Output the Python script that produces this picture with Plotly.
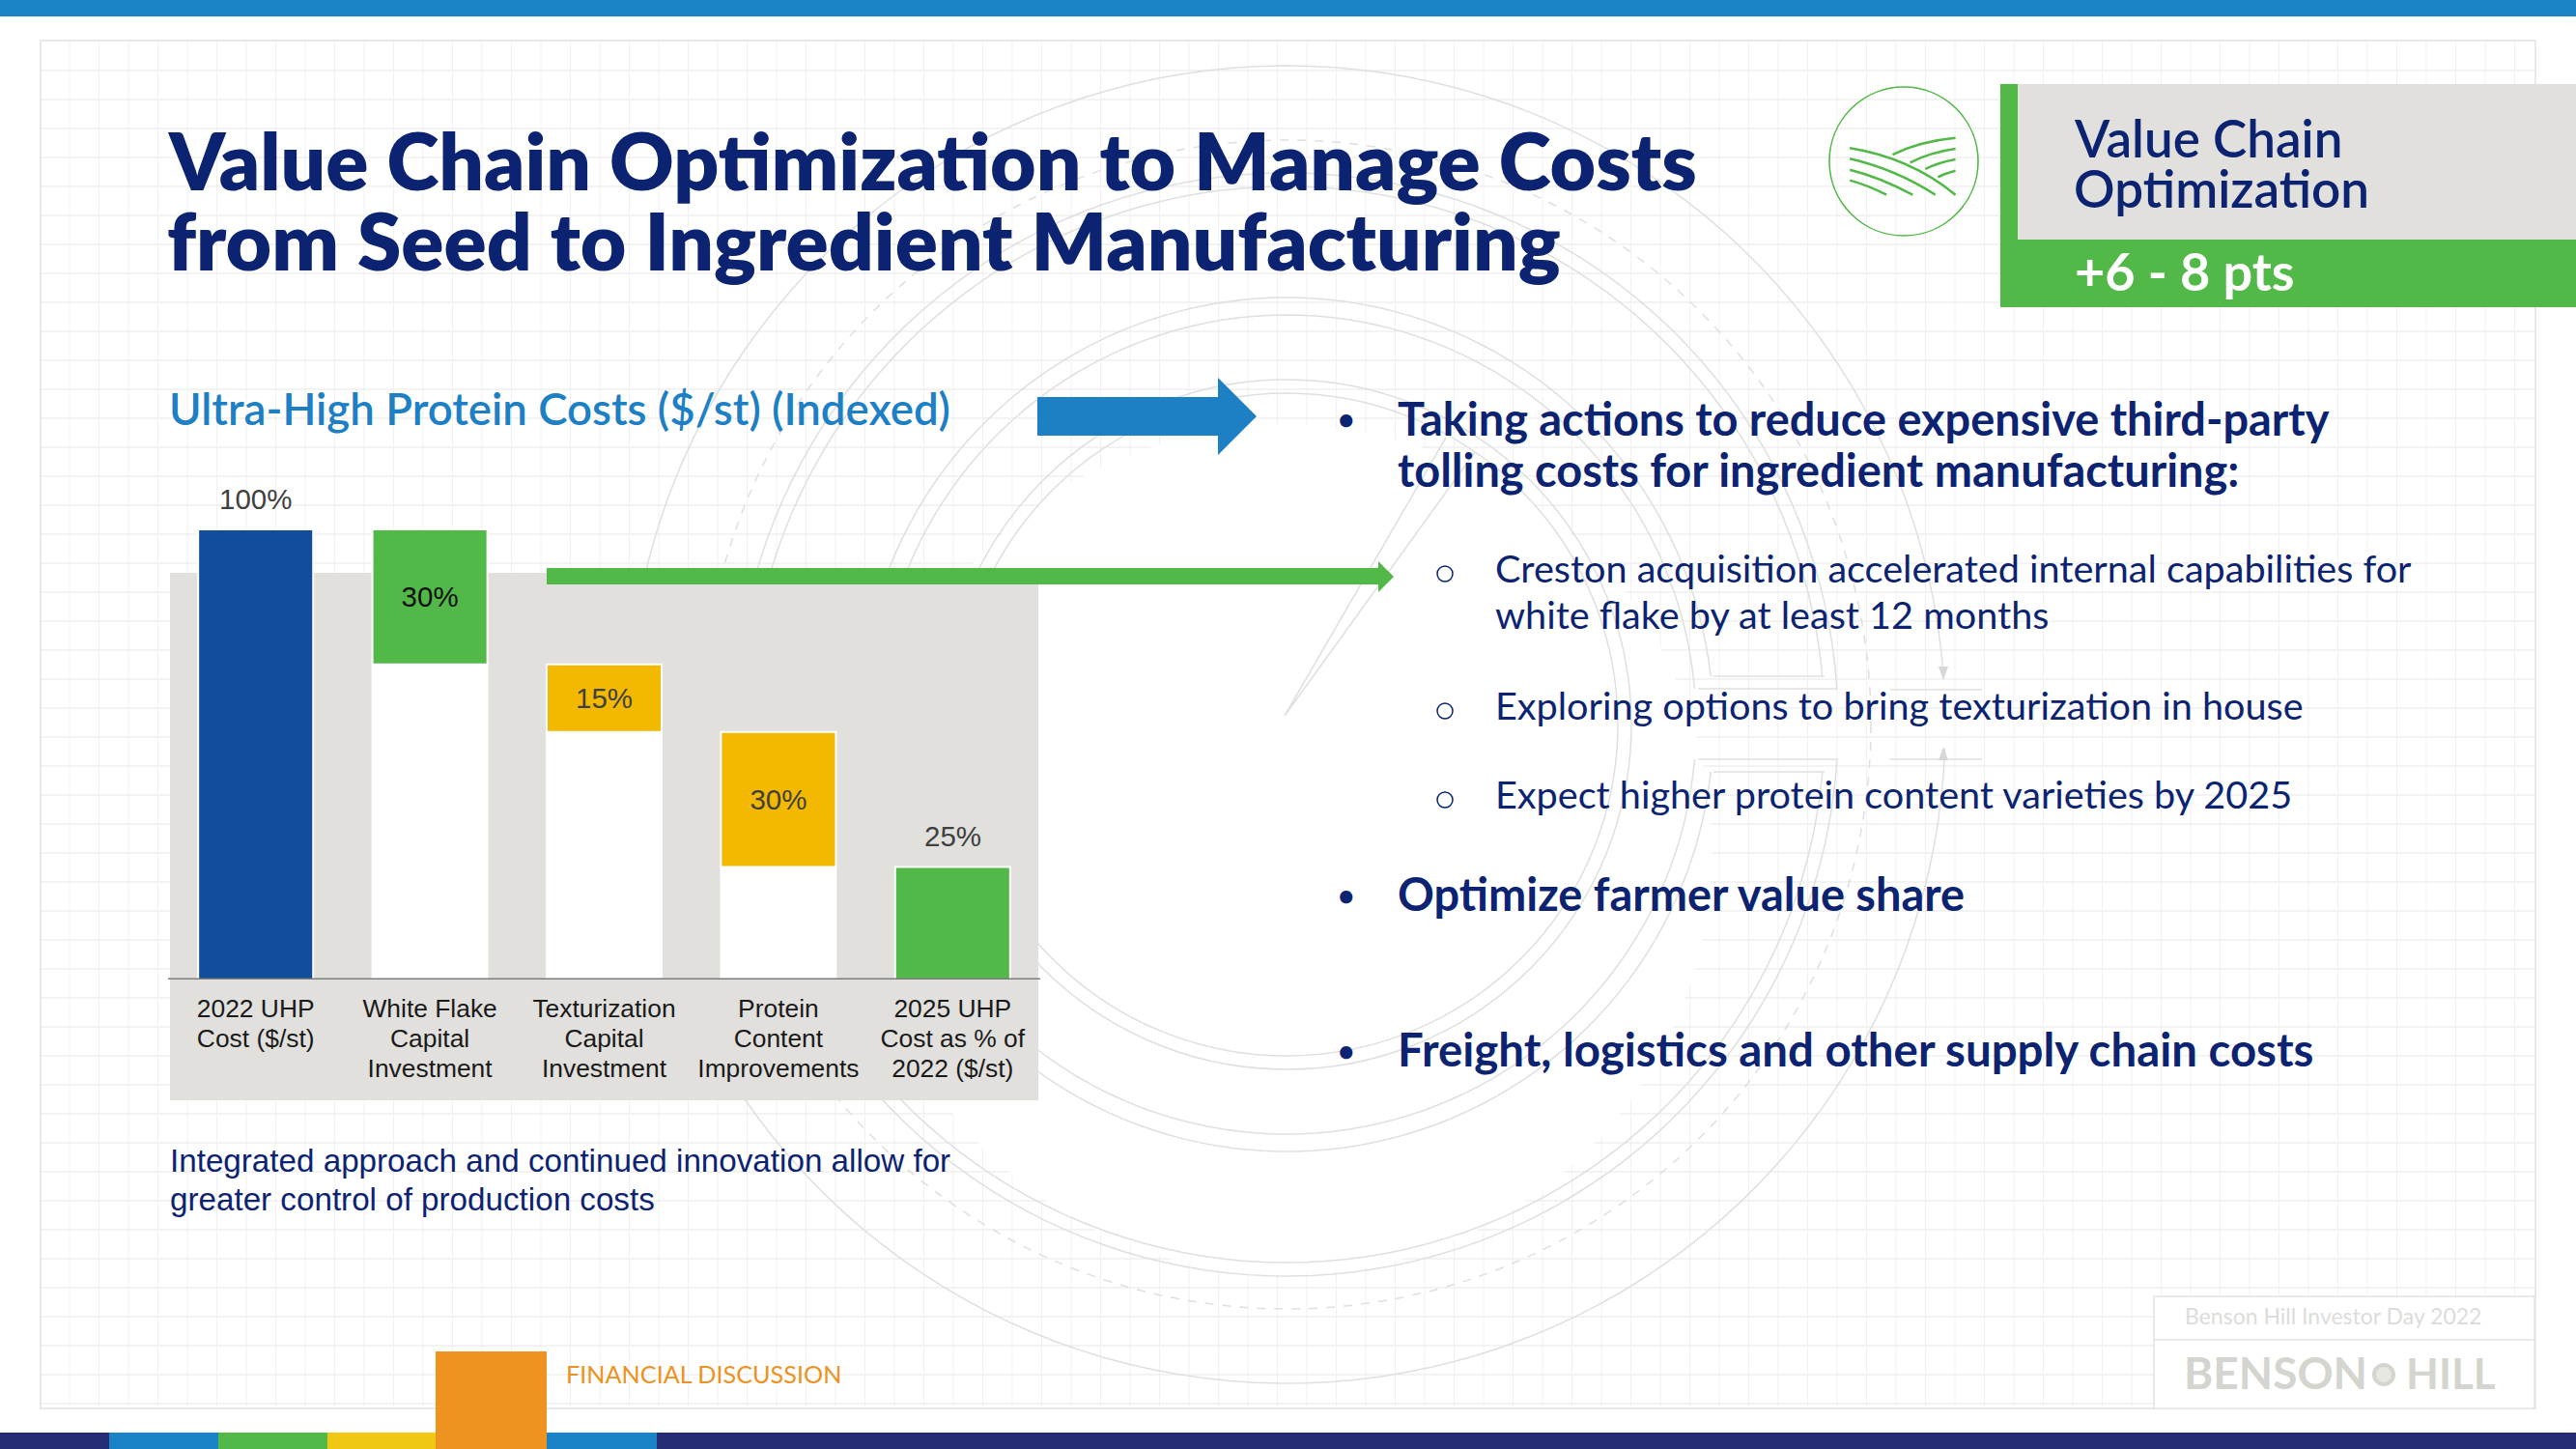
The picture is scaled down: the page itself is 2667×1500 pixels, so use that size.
import math
import plotly.graph_objects as go

# ---------- chart data ----------
categories = ["2022 UHP<br>Cost ($/st)", "White Flake<br>Capital<br>Investment",
              "Texturization<br>Capital<br>Investment", "Protein<br>Content<br>Improvements",
              "2025 UHP<br>Cost as % of<br>2022 ($/st)"]
step_base = [0, 70, 55, 25, 0]
step_size = [100, 30, 15, 30, 25]
bar_labels = ["100%", "30%", "15%", "30%", "25%"]
label_place = ["outside", "inside", "inside", "inside", "outside"]
bar_colors = ["#124d9b", "#52b848", "#f3b900", "#f3b900", "#52b848"]
label_colors = ["#404040", "#111111", "#404040", "#404040", "#404040"]

W, H = 2667, 1500
NAVY = "#0c2372"
GREEN = "#52b848"
BLUE = "#1d80c4"
def fx(x): return x / W
def fy(y): return 1 - y / H

shapes, annotations = [], []
def rect(x0, y0, x1, y1, color):
    shapes.append(dict(type="rect", xref="paper", yref="paper", x0=fx(x0), x1=fx(x1), y0=fy(y0), y1=fy(y1),
                       fillcolor=color, line=dict(width=0), layer="below"))
def path(pts, color, width=1.5, dash="solid", fill=None, close=False):
    d = "M" + " L".join(f"{fx(x):.5f},{fy(y):.5f}" for x, y in pts) + (" Z" if close else "")
    shapes.append(dict(type="path", xref="paper", yref="paper", path=d, fillcolor=fill,
                       line=dict(color=color, width=width, dash=dash), layer="below"))
def circle(cx, cy, r, color, width=1.5, dash="solid", fill=None):
    shapes.append(dict(type="circle", xref="paper", yref="paper", x0=fx(cx - r), x1=fx(cx + r),
                       y0=fy(cy - r), y1=fy(cy + r), fillcolor=fill,
                       line=dict(color=color, width=width, dash=dash), layer="below"))
DESC = {"Lato": 0.213, "Liberation Sans": 0.212}
SHIFT = {"Lato": 3, "Liberation Sans": 1}
def text(x, base, s, size, color, weight=400, family="Lato"):
    annotations.append(dict(xref="paper", yref="paper", x=fx(x), y=fy(base + SHIFT[family] + DESC[family] * size),
                            text=s, showarrow=False, xanchor="left", yanchor="bottom", align="left", borderpad=0,
                            font=dict(family=family, size=size, color=color, weight=weight)))

# ---------- paper grid ----------
GRID = "#efefed"
x = 72
while x < 2625:
    path([(x, 42), (x, 1458)], "#f1f1ef", 1)
    x += 30.5
y = 73
while y < 1458:
    path([(42, y), (2625, y)], GRID, 1.5)
    y += 30
path([(42, 42), (2625, 42), (2625, 1458), (42, 1458)], "#e8e8e6", 2, close=True)

# ---------- watermark rings ----------
CX, CY = 1332, 750
RING = "#dfdfdd"
circle(CX, 880, 440, "#ffffff", 0, fill="#ffffff")
def ring(r, gap_top=None, gap_bot=None, dash="solid"):
    if gap_top is None:
        circle(CX, CY, r, RING, 1.5, dash)
        return
    a0 = math.asin((gap_bot - CY) / r)
    a1 = 2 * math.pi + math.asin((gap_top - CY) / r)
    n = 160
    path([(CX + r * math.cos(a0 + (a1 - a0) * i / n), CY + r * math.sin(a0 + (a1 - a0) * i / n))
          for i in range(n + 1)], RING, 1.5)
ring(682, 702, 775)
ring(605, dash="dash")
ring(571, 713, 786)
ring(557, 700, 799)
ring(442, 700, 799)
ring(424, 713, 786)
ring(357)
ring(343)
path([(1758, 713), (1903, 713)], RING, 1.5)
path([(1774, 700), (1889, 700)], RING, 1.5)
path([(1758, 786), (1903, 786)], RING, 1.5)
path([(1774, 799), (1889, 799)], RING, 1.5)
path([(1957, 714), (2052, 714)], RING, 1.5)
path([(1957, 786), (2052, 786)], RING, 1.5)
path([(2007, 690), (2017, 690), (2012, 704)], "#d6d6d4", 0, fill="#d6d6d4", close=True)
path([(2007, 787), (2017, 787), (2012, 773)], "#d6d6d4", 0, fill="#d6d6d4", close=True)
path([(1497, 453), (1330, 741), (1527, 468)], RING, 1.5)

# ---------- bands ----------
rect(0, 0, W, 17, "#1b84c7")
rect(0, 1483, W, H, "#262c73")
rect(113, 1483, 226, H, "#1a82c6")
rect(226, 1483, 339, H, GREEN)
rect(339, 1483, 451, H, "#f0c814")
rect(451, 1399, 566, H, "#ee9220")
rect(566, 1483, 680, H, "#1a82c6")

# ---------- chart panel and arrows ----------
rect(176, 593, 1075, 1139, "#e1e0dd")
rect(566, 588, 1427, 605, GREEN)
path([(1427, 581), (1443, 597), (1427, 613)], GREEN, 0, fill=GREEN, close=True)
path([(1074, 411), (1261, 411), (1261, 391), (1301, 431), (1261, 471), (1261, 451), (1074, 451)],
     BLUE, 0, fill=BLUE, close=True)

# ---------- badge ----------
rect(2071, 87, W, 318, GREEN)
rect(2089, 87, W, 248, "#e1e0dd")
circle(1971, 167, 77, GREEN, 1.6)
def icon_x(z): return 1850 + 0.521 * z
def icon_y(z): return 60 + z / 3
for (a, b, c, d, e, f) in [(125, 280, 245, 310, 335, 425), (125, 313, 215, 345, 295, 425),
                           (125, 347, 185, 370, 250, 425), (125, 380, 160, 395, 198, 425),
                           (210, 300, 265, 258, 335, 248), (245, 325, 285, 293, 335, 282),
                           (275, 345, 300, 325, 335, 315), (300, 370, 315, 358, 335, 350)]:
    d_ = (f"M{fx(icon_x(a)):.5f},{fy(icon_y(b)):.5f} Q{fx(icon_x(c)):.5f},{fy(icon_y(d)):.5f} "
          f"{fx(icon_x(e)):.5f},{fy(icon_y(f)):.5f}")
    shapes.append(dict(type="path", xref="paper", yref="paper", path=d_, line=dict(color=GREEN, width=2.5), layer="below"))
text(2146, 161, "Value Chain", 53, NAVY, 600)
text(2146, 213, "Optimization", 53, NAVY, 600)
text(2147, 299, "+6 - 8 pts", 54, "#ffffff", 700)

# ---------- headings and body ----------
text(172, 195, "Value Chain Optimization to Manage Costs", 82, NAVY, 800)
text(172, 278, "from Seed to Ingredient Manufacturing", 82, NAVY, 800)
text(174, 438, "Ultra-High Protein Costs ($/st) (Indexed)", 45.6, BLUE, 600)
for by in [443, 936, 1097]:
    text(1384, by, "•", 30, NAVY, 700)
text(1446, 449, "Taking actions to reduce expensive third-party", 46.9, NAVY, 700)
text(1446, 502, "tolling costs for ingredient manufacturing:", 46.9, NAVY, 700)
text(1446, 941, "Optimize farmer value share", 46.9, NAVY, 700)
text(1446, 1102, "Freight, logistics and other supply chain costs", 47.4, NAVY, 700)
for by in [603, 745, 837]:
    circle(1496, by - 9, 8, NAVY, 1.5)
text(1547, 601, "Creston acquisition accelerated internal capabilities for", 39.6, NAVY, 400)
text(1547, 649, "white flake by at least 12 months", 39.6, NAVY, 400)
text(1547, 743, "Exploring options to bring texturization in house", 39.6, NAVY, 400)
text(1547, 835, "Expect higher protein content varieties by 2025", 39.6, NAVY, 400)
text(175, 1213, "Integrated approach and continued innovation allow for", 33.2, NAVY, 400, "Liberation Sans")
text(175, 1253, "greater control of production costs", 33.2, NAVY, 400, "Liberation Sans")
text(585, 1430, "FINANCIAL DISCUSSION", 25.2, "#ea9322", 400)

# ---------- footer box ----------
BOX = "#e3e3e0"
path([(2230, 1342), (2624, 1342), (2624, 1458), (2230, 1458)], BOX, 1.5, fill="#ffffff", close=True)
path([(2230, 1387), (2624, 1387)], BOX, 1.5)
text(2261, 1369, "Benson Hill Investor Day 2022", 23, "#dcdcda", 400)
text(2260, 1436, "BENSON", 46, "#d4d5ce", 700)
text(2490, 1436, "HILL", 44, "#d4d5ce", 700)
circle(2468, 1423, 10, "#d4d5ce", 4, fill="#e6e6e2")

# ---------- the chart ----------
fig = go.Figure()
fig.add_bar(x=categories, y=step_base, marker=dict(color="#ffffff", line=dict(width=0)),
            width=0.67, hoverinfo="skip", showlegend=False)
inner_text = [t if p == "inside" else "" for t, p in zip(bar_labels, label_place)]
fig.add_bar(x=categories, y=step_size, base=step_base, width=0.66,
            marker=dict(color=bar_colors, line=dict(color="#ffffff", width=2)),
            text=inner_text, textposition="inside", insidetextanchor="middle", textangle=0,
            insidetextfont=dict(family="Liberation Sans", size=29.5, color=label_colors),
            showlegend=False)
for cat, b, s, t, p, c in zip(categories, step_base, step_size, bar_labels, label_place, label_colors):
    if p == "outside":
        annotations.append(dict(x=cat, y=b + s, xref="x", yref="y", text=t, showarrow=False, yshift=32,
                                yanchor="middle", font=dict(family="Liberation Sans", size=29.5, color=c)))

fig.update_layout(
    width=W, height=H, autosize=False, margin=dict(l=0, r=0, t=0, b=0), barmode="overlay",
    paper_bgcolor="#ffffff", plot_bgcolor="rgba(0,0,0,0)",
    xaxis=dict(domain=[174.5 / W, 1076.5 / W], type="category", range=[-0.5, 4.5], showgrid=False, zeroline=False,
               showline=False, ticks="outside", ticklen=6, tickcolor="rgba(0,0,0,0)", tickangle=0,
               tickfont=dict(family="Liberation Sans", size=26.4, color="#1a1a1a")),
    yaxis=dict(domain=[1 - 1014 / H, 1 - 502 / H], range=[0, 512 / 4.66], visible=False),
    shapes=shapes + [dict(type="line", xref="paper", yref="y", x0=fx(174), x1=fx(1077), y0=0, y1=0,
                          line=dict(color="#7d7d7d", width=3), layer="above")],
    annotations=annotations,
)
# tighten multi-line tick labels to the reference's line pitch
tighten = """
document.body.style.margin='0';
document.querySelectorAll('.xtick text').forEach(function(t){
  t.querySelectorAll('tspan.line').forEach(function(s,i){ s.setAttribute('dy',(i*1.174)+'em'); });
});
"""
fig.write_html("out.html", config=dict(displayModeBar=False), post_script=tighten)
